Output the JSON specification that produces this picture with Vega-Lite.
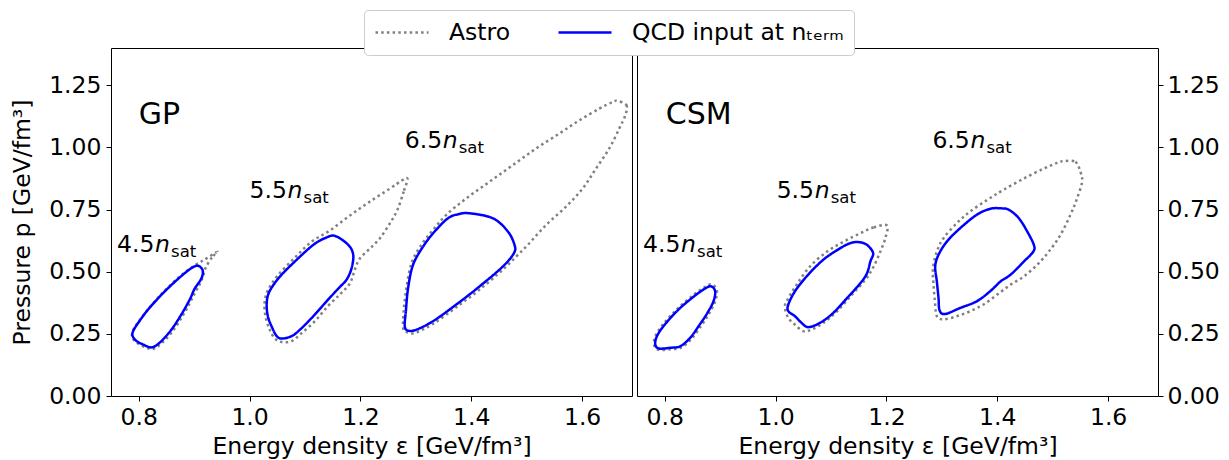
{
"$schema":"https://vega.github.io/schema/vega-lite/v6.json",
"padding":{"left":10,"top":9,"right":5,"bottom":0},
"background":"#ffffff",
"spacing":5,
"bounds":"flush",
"datasets":{
"c":[
{"panel":"GP","n":"4.5","src":"Astro","i":0,"eps":0.942,"pres":0.579},
{"panel":"GP","n":"4.5","src":"Astro","i":1,"eps":0.932,"pres":0.557},
{"panel":"GP","n":"4.5","src":"Astro","i":2,"eps":0.921,"pres":0.517},
{"panel":"GP","n":"4.5","src":"Astro","i":3,"eps":0.916,"pres":0.481},
{"panel":"GP","n":"4.5","src":"Astro","i":4,"eps":0.910,"pres":0.449},
{"panel":"GP","n":"4.5","src":"Astro","i":5,"eps":0.901,"pres":0.413},
{"panel":"GP","n":"4.5","src":"Astro","i":6,"eps":0.892,"pres":0.373},
{"panel":"GP","n":"4.5","src":"Astro","i":7,"eps":0.878,"pres":0.317},
{"panel":"GP","n":"4.5","src":"Astro","i":8,"eps":0.860,"pres":0.257},
{"panel":"GP","n":"4.5","src":"Astro","i":9,"eps":0.842,"pres":0.213},
{"panel":"GP","n":"4.5","src":"Astro","i":10,"eps":0.829,"pres":0.192},
{"panel":"GP","n":"4.5","src":"Astro","i":11,"eps":0.820,"pres":0.190},
{"panel":"GP","n":"4.5","src":"Astro","i":12,"eps":0.806,"pres":0.202},
{"panel":"GP","n":"4.5","src":"Astro","i":13,"eps":0.795,"pres":0.217},
{"panel":"GP","n":"4.5","src":"Astro","i":14,"eps":0.788,"pres":0.237},
{"panel":"GP","n":"4.5","src":"Astro","i":15,"eps":0.790,"pres":0.265},
{"panel":"GP","n":"4.5","src":"Astro","i":16,"eps":0.799,"pres":0.297},
{"panel":"GP","n":"4.5","src":"Astro","i":17,"eps":0.817,"pres":0.349},
{"panel":"GP","n":"4.5","src":"Astro","i":18,"eps":0.844,"pres":0.417},
{"panel":"GP","n":"4.5","src":"Astro","i":19,"eps":0.874,"pres":0.481},
{"panel":"GP","n":"4.5","src":"Astro","i":20,"eps":0.898,"pres":0.521},
{"panel":"GP","n":"4.5","src":"Astro","i":21,"eps":0.919,"pres":0.549},
{"panel":"GP","n":"4.5","src":"Astro","i":22,"eps":0.936,"pres":0.573},
{"panel":"GP","n":"5.5","src":"Astro","i":0,"eps":1.285,"pres":0.874},
{"panel":"GP","n":"5.5","src":"Astro","i":1,"eps":1.278,"pres":0.822},
{"panel":"GP","n":"5.5","src":"Astro","i":2,"eps":1.267,"pres":0.750},
{"panel":"GP","n":"5.5","src":"Astro","i":3,"eps":1.253,"pres":0.694},
{"panel":"GP","n":"5.5","src":"Astro","i":4,"eps":1.235,"pres":0.634},
{"panel":"GP","n":"5.5","src":"Astro","i":5,"eps":1.217,"pres":0.593},
{"panel":"GP","n":"5.5","src":"Astro","i":6,"eps":1.199,"pres":0.553},
{"panel":"GP","n":"5.5","src":"Astro","i":7,"eps":1.190,"pres":0.509},
{"panel":"GP","n":"5.5","src":"Astro","i":8,"eps":1.181,"pres":0.453},
{"panel":"GP","n":"5.5","src":"Astro","i":9,"eps":1.163,"pres":0.409},
{"panel":"GP","n":"5.5","src":"Astro","i":10,"eps":1.141,"pres":0.361},
{"panel":"GP","n":"5.5","src":"Astro","i":11,"eps":1.118,"pres":0.301},
{"panel":"GP","n":"5.5","src":"Astro","i":12,"eps":1.094,"pres":0.253},
{"panel":"GP","n":"5.5","src":"Astro","i":13,"eps":1.076,"pres":0.221},
{"panel":"GP","n":"5.5","src":"Astro","i":14,"eps":1.058,"pres":0.217},
{"panel":"GP","n":"5.5","src":"Astro","i":15,"eps":1.045,"pres":0.233},
{"panel":"GP","n":"5.5","src":"Astro","i":16,"eps":1.036,"pres":0.269},
{"panel":"GP","n":"5.5","src":"Astro","i":17,"eps":1.029,"pres":0.317},
{"panel":"GP","n":"5.5","src":"Astro","i":18,"eps":1.027,"pres":0.373},
{"panel":"GP","n":"5.5","src":"Astro","i":19,"eps":1.033,"pres":0.425},
{"panel":"GP","n":"5.5","src":"Astro","i":20,"eps":1.051,"pres":0.485},
{"panel":"GP","n":"5.5","src":"Astro","i":21,"eps":1.082,"pres":0.557},
{"panel":"GP","n":"5.5","src":"Astro","i":22,"eps":1.112,"pres":0.621},
{"panel":"GP","n":"5.5","src":"Astro","i":23,"eps":1.145,"pres":0.666},
{"panel":"GP","n":"5.5","src":"Astro","i":24,"eps":1.181,"pres":0.726},
{"panel":"GP","n":"5.5","src":"Astro","i":25,"eps":1.217,"pres":0.782},
{"panel":"GP","n":"5.5","src":"Astro","i":26,"eps":1.253,"pres":0.834},
{"panel":"GP","n":"5.5","src":"Astro","i":27,"eps":1.274,"pres":0.866},
{"panel":"GP","n":"6.5","src":"Astro","i":0,"eps":1.664,"pres":1.187},
{"panel":"GP","n":"6.5","src":"Astro","i":1,"eps":1.680,"pres":1.170},
{"panel":"GP","n":"6.5","src":"Astro","i":2,"eps":1.678,"pres":1.130},
{"panel":"GP","n":"6.5","src":"Astro","i":3,"eps":1.667,"pres":1.076},
{"panel":"GP","n":"6.5","src":"Astro","i":4,"eps":1.649,"pres":0.996},
{"panel":"GP","n":"6.5","src":"Astro","i":5,"eps":1.625,"pres":0.915},
{"panel":"GP","n":"6.5","src":"Astro","i":6,"eps":1.601,"pres":0.835},
{"panel":"GP","n":"6.5","src":"Astro","i":7,"eps":1.571,"pres":0.762},
{"panel":"GP","n":"6.5","src":"Astro","i":8,"eps":1.535,"pres":0.688},
{"panel":"GP","n":"6.5","src":"Astro","i":9,"eps":1.502,"pres":0.608},
{"panel":"GP","n":"6.5","src":"Astro","i":10,"eps":1.481,"pres":0.561},
{"panel":"GP","n":"6.5","src":"Astro","i":11,"eps":1.457,"pres":0.508},
{"panel":"GP","n":"6.5","src":"Astro","i":12,"eps":1.415,"pres":0.428},
{"panel":"GP","n":"6.5","src":"Astro","i":13,"eps":1.373,"pres":0.357},
{"panel":"GP","n":"6.5","src":"Astro","i":14,"eps":1.331,"pres":0.290},
{"panel":"GP","n":"6.5","src":"Astro","i":15,"eps":1.298,"pres":0.254},
{"panel":"GP","n":"6.5","src":"Astro","i":16,"eps":1.283,"pres":0.258},
{"panel":"GP","n":"6.5","src":"Astro","i":17,"eps":1.277,"pres":0.274},
{"panel":"GP","n":"6.5","src":"Astro","i":18,"eps":1.278,"pres":0.341},
{"panel":"GP","n":"6.5","src":"Astro","i":19,"eps":1.283,"pres":0.434},
{"panel":"GP","n":"6.5","src":"Astro","i":20,"eps":1.292,"pres":0.534},
{"panel":"GP","n":"6.5","src":"Astro","i":21,"eps":1.310,"pres":0.608},
{"panel":"GP","n":"6.5","src":"Astro","i":22,"eps":1.331,"pres":0.668},
{"panel":"GP","n":"6.5","src":"Astro","i":23,"eps":1.355,"pres":0.729},
{"panel":"GP","n":"6.5","src":"Astro","i":24,"eps":1.391,"pres":0.795},
{"panel":"GP","n":"6.5","src":"Astro","i":25,"eps":1.433,"pres":0.862},
{"panel":"GP","n":"6.5","src":"Astro","i":26,"eps":1.475,"pres":0.929},
{"panel":"GP","n":"6.5","src":"Astro","i":27,"eps":1.517,"pres":0.996},
{"panel":"GP","n":"6.5","src":"Astro","i":28,"eps":1.559,"pres":1.056},
{"panel":"GP","n":"6.5","src":"Astro","i":29,"eps":1.595,"pres":1.109},
{"panel":"GP","n":"6.5","src":"Astro","i":30,"eps":1.631,"pres":1.156},
{"panel":"GP","n":"6.5","src":"Astro","i":31,"eps":1.655,"pres":1.183},
{"panel":"CSM","n":"4.5","src":"Astro","i":0,"eps":0.885,"pres":0.449},
{"panel":"CSM","n":"4.5","src":"Astro","i":1,"eps":0.894,"pres":0.425},
{"panel":"CSM","n":"4.5","src":"Astro","i":2,"eps":0.891,"pres":0.381},
{"panel":"CSM","n":"4.5","src":"Astro","i":3,"eps":0.880,"pres":0.331},
{"panel":"CSM","n":"4.5","src":"Astro","i":4,"eps":0.866,"pres":0.283},
{"panel":"CSM","n":"4.5","src":"Astro","i":5,"eps":0.848,"pres":0.229},
{"panel":"CSM","n":"4.5","src":"Astro","i":6,"eps":0.829,"pres":0.194},
{"panel":"CSM","n":"4.5","src":"Astro","i":7,"eps":0.810,"pres":0.188},
{"panel":"CSM","n":"4.5","src":"Astro","i":8,"eps":0.789,"pres":0.186},
{"panel":"CSM","n":"4.5","src":"Astro","i":9,"eps":0.781,"pres":0.204},
{"panel":"CSM","n":"4.5","src":"Astro","i":10,"eps":0.783,"pres":0.241},
{"panel":"CSM","n":"4.5","src":"Astro","i":11,"eps":0.798,"pres":0.291},
{"panel":"CSM","n":"4.5","src":"Astro","i":12,"eps":0.823,"pres":0.351},
{"panel":"CSM","n":"4.5","src":"Astro","i":13,"eps":0.851,"pres":0.405},
{"panel":"CSM","n":"4.5","src":"Astro","i":14,"eps":0.873,"pres":0.439},
{"panel":"CSM","n":"5.5","src":"Astro","i":0,"eps":1.201,"pres":0.686},
{"panel":"CSM","n":"5.5","src":"Astro","i":1,"eps":1.177,"pres":0.678},
{"panel":"CSM","n":"5.5","src":"Astro","i":2,"eps":1.153,"pres":0.655},
{"panel":"CSM","n":"5.5","src":"Astro","i":3,"eps":1.123,"pres":0.621},
{"panel":"CSM","n":"5.5","src":"Astro","i":4,"eps":1.093,"pres":0.581},
{"panel":"CSM","n":"5.5","src":"Astro","i":5,"eps":1.062,"pres":0.521},
{"panel":"CSM","n":"5.5","src":"Astro","i":6,"eps":1.038,"pres":0.448},
{"panel":"CSM","n":"5.5","src":"Astro","i":7,"eps":1.020,"pres":0.381},
{"panel":"CSM","n":"5.5","src":"Astro","i":8,"eps":1.017,"pres":0.354},
{"panel":"CSM","n":"5.5","src":"Astro","i":9,"eps":1.023,"pres":0.314},
{"panel":"CSM","n":"5.5","src":"Astro","i":10,"eps":1.035,"pres":0.287},
{"panel":"CSM","n":"5.5","src":"Astro","i":11,"eps":1.050,"pres":0.261},
{"panel":"CSM","n":"5.5","src":"Astro","i":12,"eps":1.065,"pres":0.267},
{"panel":"CSM","n":"5.5","src":"Astro","i":13,"eps":1.086,"pres":0.294},
{"panel":"CSM","n":"5.5","src":"Astro","i":14,"eps":1.111,"pres":0.341},
{"panel":"CSM","n":"5.5","src":"Astro","i":15,"eps":1.138,"pres":0.408},
{"panel":"CSM","n":"5.5","src":"Astro","i":16,"eps":1.162,"pres":0.468},
{"panel":"CSM","n":"5.5","src":"Astro","i":17,"eps":1.177,"pres":0.521},
{"panel":"CSM","n":"5.5","src":"Astro","i":18,"eps":1.189,"pres":0.581},
{"panel":"CSM","n":"5.5","src":"Astro","i":19,"eps":1.198,"pres":0.635},
{"panel":"CSM","n":"6.5","src":"Astro","i":0,"eps":1.520,"pres":0.945},
{"panel":"CSM","n":"6.5","src":"Astro","i":1,"eps":1.541,"pres":0.942},
{"panel":"CSM","n":"6.5","src":"Astro","i":2,"eps":1.550,"pres":0.902},
{"panel":"CSM","n":"6.5","src":"Astro","i":3,"eps":1.553,"pres":0.862},
{"panel":"CSM","n":"6.5","src":"Astro","i":4,"eps":1.544,"pres":0.795},
{"panel":"CSM","n":"6.5","src":"Astro","i":5,"eps":1.532,"pres":0.729},
{"panel":"CSM","n":"6.5","src":"Astro","i":6,"eps":1.514,"pres":0.648},
{"panel":"CSM","n":"6.5","src":"Astro","i":7,"eps":1.493,"pres":0.581},
{"panel":"CSM","n":"6.5","src":"Astro","i":8,"eps":1.472,"pres":0.528},
{"panel":"CSM","n":"6.5","src":"Astro","i":9,"eps":1.448,"pres":0.481},
{"panel":"CSM","n":"6.5","src":"Astro","i":10,"eps":1.424,"pres":0.448},
{"panel":"CSM","n":"6.5","src":"Astro","i":11,"eps":1.400,"pres":0.408},
{"panel":"CSM","n":"6.5","src":"Astro","i":12,"eps":1.375,"pres":0.368},
{"panel":"CSM","n":"6.5","src":"Astro","i":13,"eps":1.351,"pres":0.341},
{"panel":"CSM","n":"6.5","src":"Astro","i":14,"eps":1.327,"pres":0.321},
{"panel":"CSM","n":"6.5","src":"Astro","i":15,"eps":1.303,"pres":0.308},
{"panel":"CSM","n":"6.5","src":"Astro","i":16,"eps":1.291,"pres":0.321},
{"panel":"CSM","n":"6.5","src":"Astro","i":17,"eps":1.288,"pres":0.368},
{"panel":"CSM","n":"6.5","src":"Astro","i":18,"eps":1.285,"pres":0.448},
{"panel":"CSM","n":"6.5","src":"Astro","i":19,"eps":1.284,"pres":0.514},
{"panel":"CSM","n":"6.5","src":"Astro","i":20,"eps":1.291,"pres":0.581},
{"panel":"CSM","n":"6.5","src":"Astro","i":21,"eps":1.303,"pres":0.635},
{"panel":"CSM","n":"6.5","src":"Astro","i":22,"eps":1.327,"pres":0.695},
{"panel":"CSM","n":"6.5","src":"Astro","i":23,"eps":1.351,"pres":0.742},
{"panel":"CSM","n":"6.5","src":"Astro","i":24,"eps":1.382,"pres":0.789},
{"panel":"CSM","n":"6.5","src":"Astro","i":25,"eps":1.411,"pres":0.829},
{"panel":"CSM","n":"6.5","src":"Astro","i":26,"eps":1.448,"pres":0.875},
{"panel":"CSM","n":"6.5","src":"Astro","i":27,"eps":1.484,"pres":0.915},
{"panel":"CSM","n":"6.5","src":"Astro","i":28,"eps":1.508,"pres":0.938},
{"panel":"GP","n":"4.5","src":"QCD","i":0,"eps":0.907,"pres":0.524},
{"panel":"GP","n":"4.5","src":"QCD","i":1,"eps":0.915,"pres":0.508},
{"panel":"GP","n":"4.5","src":"QCD","i":2,"eps":0.915,"pres":0.485},
{"panel":"GP","n":"4.5","src":"QCD","i":3,"eps":0.910,"pres":0.461},
{"panel":"GP","n":"4.5","src":"QCD","i":4,"eps":0.901,"pres":0.432},
{"panel":"GP","n":"4.5","src":"QCD","i":5,"eps":0.892,"pres":0.388},
{"panel":"GP","n":"4.5","src":"QCD","i":6,"eps":0.877,"pres":0.328},
{"panel":"GP","n":"4.5","src":"QCD","i":7,"eps":0.859,"pres":0.267},
{"panel":"GP","n":"4.5","src":"QCD","i":8,"eps":0.841,"pres":0.221},
{"panel":"GP","n":"4.5","src":"QCD","i":9,"eps":0.829,"pres":0.200},
{"panel":"GP","n":"4.5","src":"QCD","i":10,"eps":0.820,"pres":0.196},
{"panel":"GP","n":"4.5","src":"QCD","i":11,"eps":0.808,"pres":0.207},
{"panel":"GP","n":"4.5","src":"QCD","i":12,"eps":0.796,"pres":0.221},
{"panel":"GP","n":"4.5","src":"QCD","i":13,"eps":0.789,"pres":0.241},
{"panel":"GP","n":"4.5","src":"QCD","i":14,"eps":0.790,"pres":0.261},
{"panel":"GP","n":"4.5","src":"QCD","i":15,"eps":0.799,"pres":0.294},
{"panel":"GP","n":"4.5","src":"QCD","i":16,"eps":0.817,"pres":0.348},
{"panel":"GP","n":"4.5","src":"QCD","i":17,"eps":0.844,"pres":0.414},
{"panel":"GP","n":"4.5","src":"QCD","i":18,"eps":0.874,"pres":0.477},
{"panel":"GP","n":"4.5","src":"QCD","i":19,"eps":0.895,"pres":0.514},
{"panel":"GP","n":"5.5","src":"QCD","i":0,"eps":1.154,"pres":0.644},
{"panel":"GP","n":"5.5","src":"QCD","i":1,"eps":1.178,"pres":0.608},
{"panel":"GP","n":"5.5","src":"QCD","i":2,"eps":1.187,"pres":0.568},
{"panel":"GP","n":"5.5","src":"QCD","i":3,"eps":1.184,"pres":0.514},
{"panel":"GP","n":"5.5","src":"QCD","i":4,"eps":1.175,"pres":0.468},
{"panel":"GP","n":"5.5","src":"QCD","i":5,"eps":1.160,"pres":0.432},
{"panel":"GP","n":"5.5","src":"QCD","i":6,"eps":1.139,"pres":0.381},
{"panel":"GP","n":"5.5","src":"QCD","i":7,"eps":1.115,"pres":0.321},
{"panel":"GP","n":"5.5","src":"QCD","i":8,"eps":1.091,"pres":0.267},
{"panel":"GP","n":"5.5","src":"QCD","i":9,"eps":1.076,"pres":0.241},
{"panel":"GP","n":"5.5","src":"QCD","i":10,"eps":1.058,"pres":0.231},
{"panel":"GP","n":"5.5","src":"QCD","i":11,"eps":1.049,"pres":0.241},
{"panel":"GP","n":"5.5","src":"QCD","i":12,"eps":1.041,"pres":0.274},
{"panel":"GP","n":"5.5","src":"QCD","i":13,"eps":1.033,"pres":0.321},
{"panel":"GP","n":"5.5","src":"QCD","i":14,"eps":1.031,"pres":0.374},
{"panel":"GP","n":"5.5","src":"QCD","i":15,"eps":1.036,"pres":0.421},
{"panel":"GP","n":"5.5","src":"QCD","i":16,"eps":1.055,"pres":0.481},
{"panel":"GP","n":"5.5","src":"QCD","i":17,"eps":1.085,"pres":0.548},
{"panel":"GP","n":"5.5","src":"QCD","i":18,"eps":1.115,"pres":0.608},
{"panel":"GP","n":"5.5","src":"QCD","i":19,"eps":1.136,"pres":0.635},
{"panel":"GP","n":"6.5","src":"QCD","i":0,"eps":1.397,"pres":0.735},
{"panel":"GP","n":"6.5","src":"QCD","i":1,"eps":1.439,"pres":0.715},
{"panel":"GP","n":"6.5","src":"QCD","i":2,"eps":1.466,"pres":0.662},
{"panel":"GP","n":"6.5","src":"QCD","i":3,"eps":1.478,"pres":0.608},
{"panel":"GP","n":"6.5","src":"QCD","i":4,"eps":1.477,"pres":0.575},
{"panel":"GP","n":"6.5","src":"QCD","i":5,"eps":1.457,"pres":0.521},
{"panel":"GP","n":"6.5","src":"QCD","i":6,"eps":1.415,"pres":0.441},
{"panel":"GP","n":"6.5","src":"QCD","i":7,"eps":1.373,"pres":0.368},
{"panel":"GP","n":"6.5","src":"QCD","i":8,"eps":1.331,"pres":0.301},
{"panel":"GP","n":"6.5","src":"QCD","i":9,"eps":1.301,"pres":0.267},
{"panel":"GP","n":"6.5","src":"QCD","i":10,"eps":1.286,"pres":0.263},
{"panel":"GP","n":"6.5","src":"QCD","i":11,"eps":1.280,"pres":0.281},
{"panel":"GP","n":"6.5","src":"QCD","i":12,"eps":1.282,"pres":0.341},
{"panel":"GP","n":"6.5","src":"QCD","i":13,"eps":1.286,"pres":0.434},
{"panel":"GP","n":"6.5","src":"QCD","i":14,"eps":1.295,"pres":0.528},
{"panel":"GP","n":"6.5","src":"QCD","i":15,"eps":1.313,"pres":0.601},
{"panel":"GP","n":"6.5","src":"QCD","i":16,"eps":1.334,"pres":0.662},
{"panel":"GP","n":"6.5","src":"QCD","i":17,"eps":1.358,"pres":0.715},
{"panel":"GP","n":"6.5","src":"QCD","i":18,"eps":1.376,"pres":0.731},
{"panel":"CSM","n":"4.5","src":"QCD","i":0,"eps":0.884,"pres":0.441},
{"panel":"CSM","n":"4.5","src":"QCD","i":1,"eps":0.891,"pres":0.421},
{"panel":"CSM","n":"4.5","src":"QCD","i":2,"eps":0.888,"pres":0.381},
{"panel":"CSM","n":"4.5","src":"QCD","i":3,"eps":0.877,"pres":0.334},
{"panel":"CSM","n":"4.5","src":"QCD","i":4,"eps":0.863,"pres":0.287},
{"panel":"CSM","n":"4.5","src":"QCD","i":5,"eps":0.846,"pres":0.234},
{"panel":"CSM","n":"4.5","src":"QCD","i":6,"eps":0.828,"pres":0.200},
{"panel":"CSM","n":"4.5","src":"QCD","i":7,"eps":0.810,"pres":0.194},
{"panel":"CSM","n":"4.5","src":"QCD","i":8,"eps":0.790,"pres":0.191},
{"panel":"CSM","n":"4.5","src":"QCD","i":9,"eps":0.783,"pres":0.207},
{"panel":"CSM","n":"4.5","src":"QCD","i":10,"eps":0.786,"pres":0.241},
{"panel":"CSM","n":"4.5","src":"QCD","i":11,"eps":0.800,"pres":0.287},
{"panel":"CSM","n":"4.5","src":"QCD","i":12,"eps":0.825,"pres":0.348},
{"panel":"CSM","n":"4.5","src":"QCD","i":13,"eps":0.853,"pres":0.401},
{"panel":"CSM","n":"4.5","src":"QCD","i":14,"eps":0.874,"pres":0.434},
{"panel":"CSM","n":"5.5","src":"QCD","i":0,"eps":1.150,"pres":0.619},
{"panel":"CSM","n":"5.5","src":"QCD","i":1,"eps":1.165,"pres":0.608},
{"panel":"CSM","n":"5.5","src":"QCD","i":2,"eps":1.176,"pres":0.575},
{"panel":"CSM","n":"5.5","src":"QCD","i":3,"eps":1.171,"pres":0.541},
{"panel":"CSM","n":"5.5","src":"QCD","i":4,"eps":1.165,"pres":0.494},
{"panel":"CSM","n":"5.5","src":"QCD","i":5,"eps":1.153,"pres":0.454},
{"panel":"CSM","n":"5.5","src":"QCD","i":6,"eps":1.129,"pres":0.394},
{"panel":"CSM","n":"5.5","src":"QCD","i":7,"eps":1.104,"pres":0.334},
{"panel":"CSM","n":"5.5","src":"QCD","i":8,"eps":1.080,"pres":0.294},
{"panel":"CSM","n":"5.5","src":"QCD","i":9,"eps":1.059,"pres":0.277},
{"panel":"CSM","n":"5.5","src":"QCD","i":10,"eps":1.047,"pres":0.294},
{"panel":"CSM","n":"5.5","src":"QCD","i":11,"eps":1.035,"pres":0.321},
{"panel":"CSM","n":"5.5","src":"QCD","i":12,"eps":1.023,"pres":0.341},
{"panel":"CSM","n":"5.5","src":"QCD","i":13,"eps":1.023,"pres":0.368},
{"panel":"CSM","n":"5.5","src":"QCD","i":14,"eps":1.035,"pres":0.421},
{"panel":"CSM","n":"5.5","src":"QCD","i":15,"eps":1.056,"pres":0.481},
{"panel":"CSM","n":"5.5","src":"QCD","i":16,"eps":1.086,"pres":0.548},
{"panel":"CSM","n":"5.5","src":"QCD","i":17,"eps":1.117,"pres":0.595},
{"panel":"CSM","n":"5.5","src":"QCD","i":18,"eps":1.135,"pres":0.615},
{"panel":"CSM","n":"6.5","src":"QCD","i":0,"eps":1.406,"pres":0.755},
{"panel":"CSM","n":"6.5","src":"QCD","i":1,"eps":1.421,"pres":0.749},
{"panel":"CSM","n":"6.5","src":"QCD","i":2,"eps":1.439,"pres":0.715},
{"panel":"CSM","n":"6.5","src":"QCD","i":3,"eps":1.454,"pres":0.662},
{"panel":"CSM","n":"6.5","src":"QCD","i":4,"eps":1.466,"pres":0.608},
{"panel":"CSM","n":"6.5","src":"QCD","i":5,"eps":1.465,"pres":0.581},
{"panel":"CSM","n":"6.5","src":"QCD","i":6,"eps":1.448,"pres":0.541},
{"panel":"CSM","n":"6.5","src":"QCD","i":7,"eps":1.424,"pres":0.488},
{"panel":"CSM","n":"6.5","src":"QCD","i":8,"eps":1.406,"pres":0.461},
{"panel":"CSM","n":"6.5","src":"QCD","i":9,"eps":1.387,"pres":0.421},
{"panel":"CSM","n":"6.5","src":"QCD","i":10,"eps":1.363,"pres":0.381},
{"panel":"CSM","n":"6.5","src":"QCD","i":11,"eps":1.333,"pres":0.354},
{"panel":"CSM","n":"6.5","src":"QCD","i":12,"eps":1.306,"pres":0.330},
{"panel":"CSM","n":"6.5","src":"QCD","i":13,"eps":1.296,"pres":0.344},
{"panel":"CSM","n":"6.5","src":"QCD","i":14,"eps":1.294,"pres":0.394},
{"panel":"CSM","n":"6.5","src":"QCD","i":15,"eps":1.291,"pres":0.461},
{"panel":"CSM","n":"6.5","src":"QCD","i":16,"eps":1.288,"pres":0.521},
{"panel":"CSM","n":"6.5","src":"QCD","i":17,"eps":1.294,"pres":0.568},
{"panel":"CSM","n":"6.5","src":"QCD","i":18,"eps":1.309,"pres":0.621},
{"panel":"CSM","n":"6.5","src":"QCD","i":19,"eps":1.333,"pres":0.675},
{"panel":"CSM","n":"6.5","src":"QCD","i":20,"eps":1.363,"pres":0.729},
{"panel":"CSM","n":"6.5","src":"QCD","i":21,"eps":1.387,"pres":0.753}
],
"ann":[
{"panel":"GP","lab":"4.5","eps":0.761,"pres":0.581},
{"panel":"GP","lab":"5.5","eps":1.0,"pres":0.798},
{"panel":"GP","lab":"6.5","eps":1.280,"pres":0.996},
{"panel":"CSM","lab":"4.5","eps":0.761,"pres":0.581},
{"panel":"CSM","lab":"5.5","eps":1.002,"pres":0.795},
{"panel":"CSM","lab":"6.5","eps":1.283,"pres":0.996}
],
"ttl":[
{"panel":"GP","t":"GP","eps":0.80,"pres":1.095},
{"panel":"CSM","t":"CSM","eps":0.802,"pres":1.095}
]
},
"hconcat":[
{
"width":521,"height":348,
"encoding":{
"x":{"field":"eps","type":"quantitative","scale":{"domain":[0.75,1.69],"nice":false,"zero":false},"axis":{"values":[0.8,1.0,1.2,1.4,1.6],"format":".1f","title":"Energy density ε [GeV/fm³]","labelPadding":4,"titlePadding":6}},
"y":{"field":"pres","type":"quantitative","scale":{"domain":[0,1.4],"nice":false,"zero":false},"axis":{"values":[0,0.25,0.5,0.75,1,1.25],"format":".2f","title":"Pressure p [GeV/fm³]","labelPadding":5,"titlePadding":14}}
},
"layer":[
{"data":{"name":"c"},"transform":[{"filter":"datum.panel === 'GP'"}],
"mark":{"type":"line","interpolate":"cardinal-closed","strokeWidth":2.5,"strokeCap":"butt","clip":true},
"encoding":{
"color":{"field":"src","type":"nominal","scale":{"domain":["Astro","QCD"],"range":["#808080","#0000ff"]},"legend":{"title":null,"orient":"none","legendX":253,"legendY":-38,"direction":"horizontal","symbolType":"stroke","symbolSize":2809,"symbolStrokeWidth":2.5,"clipHeight":25,"labelFontSize":23.5,"labelOffset":19,"columnPadding":46,"padding":10,"strokeColor":"#cccccc","cornerRadius":4,"fillColor":"#ffffff","labelLimit":500,"labelExpr":"datum.label === 'QCD' ? 'QCD input at nₜₑᵣₘ' : datum.label"}},
"strokeDash":{"field":"src","type":"nominal","scale":{"domain":["Astro","QCD"],"range":[[2.5,3.2],[1,0]]},"legend":{"title":null,"orient":"none","legendX":253,"legendY":-38,"direction":"horizontal","symbolType":"stroke","symbolSize":2809,"symbolStrokeWidth":2.5,"clipHeight":25,"labelFontSize":23.5,"labelOffset":19,"columnPadding":46,"padding":10,"strokeColor":"#cccccc","cornerRadius":4,"fillColor":"#ffffff","labelLimit":500,"labelExpr":"datum.label === 'QCD' ? 'QCD input at nₜₑᵣₘ' : datum.label"}},
"detail":{"field":"n"},
"order":{"field":"i","type":"quantitative"}
}},
{"data":{"name":"ann"},"transform":[{"filter":"datum.panel === 'GP'"}],
"mark":{"type":"text","align":"left","baseline":"alphabetic","fontSize":23.5},
"encoding":{"text":{"field":"lab"}}},
{"data":{"name":"ann"},"transform":[{"filter":"datum.panel === 'GP'"}],
"mark":{"type":"text","text":"n","align":"left","baseline":"alphabetic","fontSize":23.5,"fontStyle":"italic","dx":38}},
{"data":{"name":"ann"},"transform":[{"filter":"datum.panel === 'GP'"}],
"mark":{"type":"text","text":"sat","align":"left","baseline":"alphabetic","fontSize":16.5,"dx":54,"dy":5}},
{"data":{"name":"ttl"},"transform":[{"filter":"datum.panel === 'GP'"}],
"mark":{"type":"text","align":"left","baseline":"alphabetic","fontSize":30},
"encoding":{"text":{"field":"t"}}}
]
},
{
"width":521,"height":348,
"encoding":{
"x":{"field":"eps","type":"quantitative","scale":{"domain":[0.75,1.69],"nice":false,"zero":false},"axis":{"values":[0.8,1.0,1.2,1.4,1.6],"format":".1f","title":"Energy density ε [GeV/fm³]","labelPadding":4,"titlePadding":6}},
"y":{"field":"pres","type":"quantitative","scale":{"domain":[0,1.4],"nice":false,"zero":false},"axis":{"orient":"right","values":[0,0.25,0.5,0.75,1,1.25],"format":".2f","title":null,"labelPadding":4}}
},
"layer":[
{"data":{"name":"c"},"transform":[{"filter":"datum.panel === 'CSM'"}],
"mark":{"type":"line","interpolate":"cardinal-closed","strokeWidth":2.5,"strokeCap":"butt","clip":true},
"encoding":{
"color":{"field":"src","type":"nominal","scale":{"domain":["Astro","QCD"],"range":["#808080","#0000ff"]},"legend":{"title":null,"orient":"none","legendX":253,"legendY":-38,"direction":"horizontal","symbolType":"stroke","symbolSize":2809,"symbolStrokeWidth":2.5,"clipHeight":25,"labelFontSize":23.5,"labelOffset":19,"columnPadding":46,"padding":10,"strokeColor":"#cccccc","cornerRadius":4,"fillColor":"#ffffff","labelLimit":500,"labelExpr":"datum.label === 'QCD' ? 'QCD input at nₜₑᵣₘ' : datum.label"}},
"strokeDash":{"field":"src","type":"nominal","scale":{"domain":["Astro","QCD"],"range":[[2.5,3.2],[1,0]]},"legend":{"title":null,"orient":"none","legendX":253,"legendY":-38,"direction":"horizontal","symbolType":"stroke","symbolSize":2809,"symbolStrokeWidth":2.5,"clipHeight":25,"labelFontSize":23.5,"labelOffset":19,"columnPadding":46,"padding":10,"strokeColor":"#cccccc","cornerRadius":4,"fillColor":"#ffffff","labelLimit":500,"labelExpr":"datum.label === 'QCD' ? 'QCD input at nₜₑᵣₘ' : datum.label"}},
"detail":{"field":"n"},
"order":{"field":"i","type":"quantitative"}
}},
{"data":{"name":"ann"},"transform":[{"filter":"datum.panel === 'CSM'"}],
"mark":{"type":"text","align":"left","baseline":"alphabetic","fontSize":23.5},
"encoding":{"text":{"field":"lab"}}},
{"data":{"name":"ann"},"transform":[{"filter":"datum.panel === 'CSM'"}],
"mark":{"type":"text","text":"n","align":"left","baseline":"alphabetic","fontSize":23.5,"fontStyle":"italic","dx":38}},
{"data":{"name":"ann"},"transform":[{"filter":"datum.panel === 'CSM'"}],
"mark":{"type":"text","text":"sat","align":"left","baseline":"alphabetic","fontSize":16.5,"dx":54,"dy":5}},
{"data":{"name":"ttl"},"transform":[{"filter":"datum.panel === 'CSM'"}],
"mark":{"type":"text","align":"left","baseline":"alphabetic","fontSize":30},
"encoding":{"text":{"field":"t"}}}
]
}
],
"config":{
"font":"DejaVu Sans",
"view":{"stroke":"#000000","strokeWidth":1},
"axis":{"grid":false,"domain":false,"tickColor":"#000000","tickSize":5,"tickWidth":1,"labelFontSize":23.5,"labelColor":"#000000","titleFontSize":23.5,"titleFontWeight":"normal","titleColor":"#000000","labelFont":"DejaVu Sans","titleFont":"DejaVu Sans"},
"legend":{"labelFont":"DejaVu Sans","labelColor":"#000000"},
"text":{"font":"DejaVu Sans","color":"#000000"}
}
}
